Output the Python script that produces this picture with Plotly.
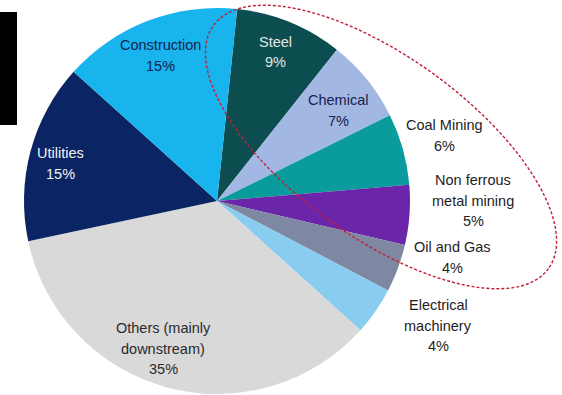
import numpy as np
import plotly.graph_objects as go

W, H = 562, 395

# Share of demand by sector (%), clockwise from the top
sectors = ["Steel", "Chemical", "Coal Mining", "Non ferrous\nmetal mining",
           "Oil and Gas", "Electrical\nmachinery", "Others (mainly\ndownstream)",
           "Utilities", "Construction"]
shares = [9, 7, 6, 5, 4, 4, 35, 15, 15]
colors = ["#0c4e50", "#a2b8e3", "#0a9b9c", "#6a25a8", "#7f88a2",
          "#88ccef", "#d9d9d9", "#0b2463", "#18b4ee"]
text_colors = ["#e4e4e4", "#17214d", "#1e1e1e", "#1e1e1e", "#1e1e1e",
               "#1e1e1e", "#2a2a2a", "#f2f2f2", "#17214d"]

# Label anchor (pixel centre x, first-line y) for each sector
label_x = [275, 338, 444, 473, 452, 438, 163, 60, 160]
label_y = [42, 100, 125, 180, 247, 305, 328, 153, 45]
line_gap = 20.5

# Pie placement in pixels
cx, cy, r = 217, 201, 193

fig = go.Figure(go.Pie(
    labels=[s.replace("\n", " ") for s in sectors],
    values=shares,
    sort=False,
    direction="clockwise",
    rotation=6,
    marker=dict(colors=colors, line=dict(width=0)),
    textinfo="none",
    hoverinfo="label+percent",
    showlegend=False,
    domain=dict(x=[(cx - r) / W, (cx + r) / W],
                y=[(H - cy - r) / H, (H - cy + r) / H]),
))

annotations = []
for name, val, x, y, tc in zip(sectors, shares, label_x, label_y, text_colors):
    lines = name.split("\n") + [f"{val}%"]
    for i, line in enumerate(lines):
        annotations.append(dict(
            x=x / W, y=1 - (y + i * line_gap) / H, xref="paper", yref="paper",
            text=line, showarrow=False, xanchor="center", yanchor="middle",
            font=dict(family="Liberation Sans, Arial, sans-serif", size=14.5, color=tc),
        ))

# Dashed ellipse grouping the heavy-industry sectors
ex, ey, ea, eb, eth = 381, 147, 207, 90, np.radians(36)
t = np.linspace(0, 2 * np.pi, 121)
px = ex + ea * np.cos(t) * np.cos(eth) - eb * np.sin(t) * np.sin(eth)
py = ey + ea * np.cos(t) * np.sin(eth) + eb * np.sin(t) * np.cos(eth)
path = "M " + " L ".join(f"{a / W:.5f},{1 - b / H:.5f}" for a, b in zip(px, py)) + " Z"

shapes = [
    dict(type="path", path=path, xref="paper", yref="paper",
         line=dict(color="#c41e38", width=1.4, dash="3px,2px")),
    dict(type="rect", xref="paper", yref="paper",
         x0=0, x1=17 / W, y0=1 - 125 / H, y1=1 - 12 / H,
         fillcolor="#000000", line=dict(width=0)),
]

fig.update_layout(
    width=W, height=H,
    margin=dict(l=0, r=0, t=0, b=0),
    paper_bgcolor="white", plot_bgcolor="white",
    annotations=annotations, shapes=shapes,
)

fig.write_html("out.html")
